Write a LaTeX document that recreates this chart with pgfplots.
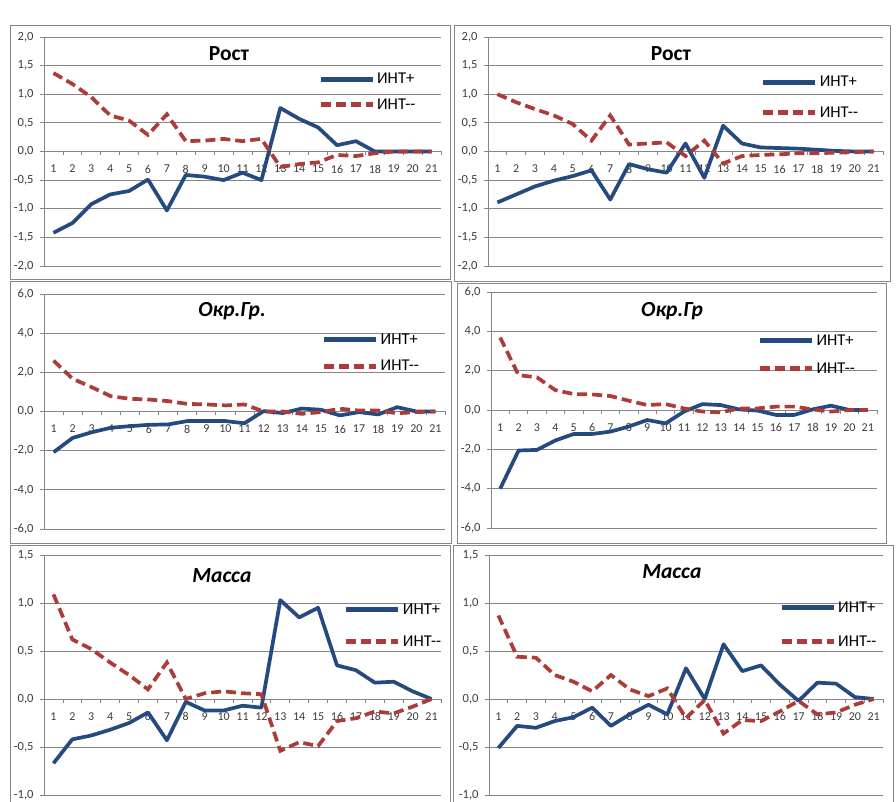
\documentclass[border=0pt]{standalone}
\usepackage{pgfplots}
\pgfplotsset{compat=1.18}
\usepackage{pgfplotstable}
\usepackage{fontspec}
\setmainfont{Carlito}

\definecolor{intplus}{RGB}{37,74,128}
\definecolor{intminus}{RGB}{172,60,56}
\definecolor{gridgray}{RGB}{134,134,134}
\definecolor{framegray}{RGB}{135,135,135}
\definecolor{labelgray}{RGB}{60,60,60}

% x  plus  minus
\pgfplotstableread{
x plus minus
1 -1.42 1.37
2 -1.25 1.18
3 -0.92 0.95
4 -0.75 0.63
5 -0.69 0.54
6 -0.49 0.29
7 -1.03 0.65
8 -0.41 0.18
9 -0.44 0.19
10 -0.50 0.22
11 -0.37 0.18
12 -0.50 0.22
13 0.76 -0.27
14 0.57 -0.22
15 0.42 -0.19
16 0.11 -0.06
17 0.18 -0.08
18 0.00 -0.03
19 0.00 0.00
20 0.00 0.00
21 0.00 0.00
}\rostA

\pgfplotstableread{
x plus minus
1 -0.89 1.00
2 -0.75 0.86
3 -0.61 0.74
4 -0.51 0.63
5 -0.43 0.48
6 -0.33 0.19
7 -0.84 0.63
8 -0.22 0.12
9 -0.31 0.14
10 -0.37 0.16
11 0.14 -0.08
12 -0.46 0.19
13 0.45 -0.21
14 0.14 -0.08
15 0.07 -0.06
16 0.06 -0.05
17 0.05 -0.03
18 0.03 -0.03
19 0.01 -0.02
20 0.00 -0.01
21 0.00 0.00
}\rostB

\pgfplotstableread{
x plus minus
1 -2.08 2.60
2 -1.35 1.67
3 -1.06 1.24
4 -0.83 0.78
5 -0.75 0.65
6 -0.68 0.61
7 -0.66 0.53
8 -0.49 0.39
9 -0.49 0.36
10 -0.49 0.31
11 -0.60 0.36
12 0.02 0.00
13 -0.08 0.00
14 0.15 -0.12
15 0.09 -0.03
16 -0.20 0.14
17 -0.03 0.05
18 -0.15 0.05
19 0.22 -0.09
20 0.00 -0.03
21 0.00 0.00
}\okrA

\pgfplotstableread{
x plus minus
1 -4.00 3.68
2 -2.06 1.77
3 -2.03 1.66
4 -1.55 1.01
5 -1.22 0.81
6 -1.22 0.79
7 -1.10 0.71
8 -0.84 0.47
9 -0.51 0.25
10 -0.68 0.30
11 -0.08 0.08
12 0.30 -0.08
13 0.25 -0.12
14 0.03 0.08
15 -0.03 0.08
16 -0.25 0.17
17 -0.25 0.17
18 0.03 0.03
19 0.22 -0.08
20 0.00 0.00
21 0.00 0.00
}\okrB

\pgfplotstableread{
x plus minus
1 -0.67 1.09
2 -0.42 0.62
3 -0.38 0.52
4 -0.32 0.38
5 -0.25 0.25
6 -0.14 0.10
7 -0.43 0.38
8 -0.03 0.00
9 -0.12 0.06
10 -0.12 0.08
11 -0.07 0.06
12 -0.09 0.05
13 1.03 -0.54
14 0.85 -0.45
15 0.95 -0.49
16 0.35 -0.23
17 0.30 -0.20
18 0.17 -0.13
19 0.18 -0.15
20 0.08 -0.08
21 0.00 0.00
}\massA

\pgfplotstableread{
x plus minus
1 -0.51 0.87
2 -0.28 0.44
3 -0.30 0.43
4 -0.23 0.25
5 -0.19 0.18
6 -0.09 0.08
7 -0.28 0.25
8 -0.16 0.10
9 -0.06 0.03
10 -0.16 0.11
11 0.32 -0.20
12 0.00 -0.01
13 0.57 -0.36
14 0.29 -0.22
15 0.35 -0.23
16 0.15 -0.13
17 -0.02 -0.02
18 0.17 -0.16
19 0.16 -0.14
20 0.02 -0.06
21 0.00 0.00
}\massB

\pgfplotsset{
  panel/.style={
    scale only axis,
    anchor=south west,
    xmin=0.5, xmax=21.5,
    axis x line=middle,
    axis y line=left,
    axis line style={-, draw=gridgray, line width=0.8pt},
    xtick={1,...,21},
    xticklabels={1,2,3,4,5,6,7,8,9,10,11,12,13,14,15,16,17,18,19,20,21},
    minor xtick={0.5,1.5,...,21.5},
    major x tick style={draw=none},
    minor x tick style={draw=gridgray, line width=0.8pt},
    y tick style={draw=gridgray, line width=0.8pt},
    tick align=outside,
    major tick length=4pt,
    minor tick length=4pt,
    ymajorgrids,
    grid style={draw=gridgray, line width=0.8pt},
    xticklabel style={font=\fontsize{12}{12}\selectfont, text=labelgray, yshift=-6pt},
    yticklabel style={font=\fontsize{12.5}{12.5}\selectfont, text=labelgray, xshift=-3pt},
    /pgf/number format/.cd, fixed, fixed zerofill, precision=1, use comma,
    assume math mode=true,
    /pgfplots/.cd,
    legend cell align=left,
    legend image code/.code={\draw[##1, line width=5pt] (0pt,0pt) -- (52pt,0pt);},
    title style={anchor=center, yshift=-5pt, font=\fontsize{21.5}{21.5}\selectfont\bfseries},
  },
  plusline/.style={color=intplus, line width=3.7pt, line join=round},
  minusline/.style={color=intminus, line width=3.7pt, dash pattern=on 10pt off 5pt},
  leg/.style={legend style={at={#1}, anchor=west, draw=none, fill=none,
    font=\fontsize{16.5}{16.5}\selectfont, inner sep=0pt}},
}

\begin{document}
\begin{tikzpicture}[x=1pt,y=1pt]
\useasboundingbox (0,0) rectangle (896,802);
\draw[framegray, line width=0.9pt] (10,523) rectangle (450,777);
\draw[framegray, line width=0.9pt] (454,521) rectangle (890,777);
\draw[framegray, line width=0.9pt] (10,259) rectangle (451,521);
\draw[framegray, line width=0.9pt] (457,259) rectangle (886,519);
\draw[framegray, line width=0.9pt] (10,-8) rectangle (450,257);
\draw[framegray, line width=0.9pt] (453,-8) rectangle (893,257);

% Рост, left
\begin{axis}[panel, at={(44pt,536pt)}, width=397pt, height=229pt,
  ymin=-2, ymax=2, ytick={-2,-1.5,...,2},
  title={Рост}, title style={at={(0.466,0.921)}},
  leg={(0.69,0.76)}, legend style={row sep=9pt}]
\addplot[plusline] table[x=x, y=plus] {\rostA};
\addplot[minusline] table[x=x, y=minus] {\rostA};
\legend{ИНТ+, ИНТ-{}-}
\end{axis}

% Рост, right
\begin{axis}[panel, at={(488pt,536pt)}, width=395pt, height=229pt,
  ymin=-2, ymax=2, ytick={-2,-1.5,...,2},
  title={Рост}, title style={at={(0.463,0.921)}},
  leg={(0.69,0.736)}, legend style={row sep=14pt}]
\addplot[plusline] table[x=x, y=plus] {\rostB};
\addplot[minusline] table[x=x, y=minus] {\rostB};
\legend{ИНТ+, ИНТ-{}-}
\end{axis}

% Окр.Гр., left
\begin{axis}[panel, at={(44pt,273pt)}, width=401pt, height=235pt,
  ymin=-6, ymax=6, ytick={-6,-4,...,6},
  title={\itshape Окр.Гр.}, title style={at={(0.469,0.923)}},
  leg={(0.692,0.749)}, legend style={row sep=10pt}]
\addplot[plusline] table[x=x, y=plus] {\okrA};
\addplot[minusline] table[x=x, y=minus] {\okrA};
\legend{ИНТ+, ИНТ-{}-}
\end{axis}

% Окр.Гр, right
\begin{axis}[panel, at={(491pt,274pt)}, width=386pt, height=236pt,
  ymin=-6, ymax=6, ytick={-6,-4,...,6},
  title={\itshape Окр.Гр}, title style={at={(0.469,0.915)}},
  leg={(0.69,0.735)}, legend style={row sep=12pt}]
\addplot[plusline] table[x=x, y=plus] {\okrB};
\addplot[minusline] table[x=x, y=minus] {\okrB};
\legend{ИНТ+, ИНТ-{}-}
\end{axis}

% Масса, left
\begin{axis}[panel, at={(44pt,7pt)}, width=397pt, height=240pt,
  ymin=-1, ymax=1.5, ytick={-1,-0.5,...,1.5},
  title={\itshape Масса}, title style={at={(0.448,0.908)}},
  leg={(0.755,0.706)}, legend style={row sep=16pt}]
\addplot[plusline] table[x=x, y=plus] {\massA};
\addplot[minusline] table[x=x, y=minus] {\massA};
\legend{ИНТ+, ИНТ-{}-}
\end{axis}

% Масса, right
\begin{axis}[panel, at={(489pt,7pt)}, width=394pt, height=240pt,
  ymin=-1, ymax=1.5, ytick={-1,-0.5,...,1.5},
  title={\itshape Масса}, title style={at={(0.464,0.925)}},
  leg={(0.736,0.71)}, legend style={row sep=18pt}]
\addplot[plusline] table[x=x, y=plus] {\massB};
\addplot[minusline] table[x=x, y=minus] {\massB};
\legend{ИНТ+, ИНТ-{}-}
\end{axis}
\end{tikzpicture}
\end{document}
